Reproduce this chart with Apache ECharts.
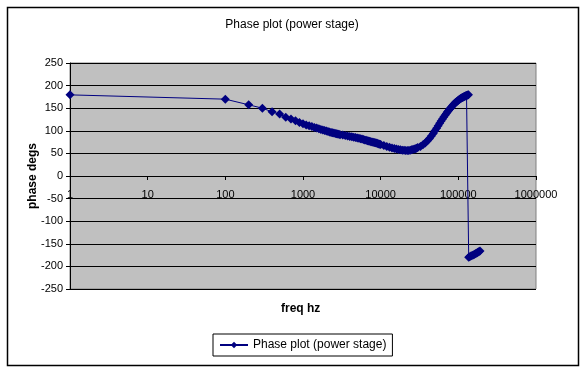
<!DOCTYPE html>
<html>
<head>
<meta charset="utf-8">
<script src="https://cdn.jsdelivr.net/npm/echarts@6/dist/echarts.min.js"></script>
<style>html,body{margin:0;padding:0;background:#fff;}#c{width:584px;height:368px;}</style>
</head>
<body>
<div id="c"></div>
<script>
var chartTitle = 'Phase plot (power stage)';
var seriesName = 'Phase plot (power stage)';
var xName = 'freq hz';
var yName = 'phase degs';
var yTicks = [-250, -200, -150, -100, -50, 0, 50, 100, 150, 200, 250];
var xTicks = [1, 10, 100, 1000, 10000, 100000, 1000000];

var freqs = [1, 100, 200, 300, 400, 500, 600, 700, 800, 900,
  1000, 1100, 1200, 1300, 1400, 1500, 1600, 1700, 1800, 1900,
  2000, 2100, 2200, 2300, 2400, 2500, 2600, 2700, 2800, 2900, 3000,
  3250, 3500, 3750, 4000, 4250, 4500, 4750, 5000, 5250, 5500, 5750,
  6000, 6250, 6500, 6750, 7000, 7250, 7500, 7750, 8000, 8250, 8500,
  8750, 9000, 9250, 9500, 9750, 10000,
  11000, 12000, 13000, 14000, 15000, 16000, 17000, 18000, 19000, 20000,
  21000, 22000, 23000, 24000, 25000, 26000, 27000, 28000, 29000, 30000,
  32500, 35000, 37500, 40000, 42500, 45000, 47500, 50000,
  52500, 55000, 57500, 60000, 62500, 65000, 67500, 70000, 72500, 75000,
  77500, 80000, 82500, 85000, 87500, 90000, 92500, 95000, 97500, 100000,
  102500, 105000, 107500, 110000, 112500, 115000, 117500, 120000,
  122500, 125000, 127500, 130000, 132500, 135000,
  136000, 140000, 145000, 150000, 155000, 160000, 165000, 170000, 175000,
  180000, 185000, 190000];

var phases = [179.5, 170, 157.5, 150, 142, 137, 130, 126, 122, 118.5,
  115.5, 113, 111, 109.5, 107.5, 106, 104.5, 103, 101.5, 100.5,
  99.5, 98.5, 97.5, 96.5, 95.5, 95, 94.2, 93.5, 92.8, 92.2, 91.5,
  90.5, 89.5, 88.5, 87.5, 86.8, 86, 85.2, 84.2, 83.5, 82.5, 81.8,
  81, 79.8, 79, 78.2, 77.5, 76.8, 76, 75.3, 74.8, 74.2, 73.5,
  73, 72.2, 71.5, 71, 70.3, 69.8,
  67.5, 65.5, 63.5, 62, 60.8, 59.5, 58.5, 57.8, 57.2, 56.7,
  56.3, 56.2, 56.5, 57, 57.8, 58.8, 59.6, 60.4, 61.5, 62.8,
  65.5, 69, 73, 78, 83, 88.5, 94.2, 100,
  105.5, 111, 116.5, 121.5, 126, 130.5, 134.5, 138.5, 142, 145,
  148, 151, 154, 156.5, 159, 161, 163, 164.5, 166, 167.5,
  169, 170.2, 171.4, 172.5, 173.5, 174.3, 175.2, 176,
  176.8, 177.5, 178.2, 178.8, 179.3, 179.8,
  -179.6, -178.5, -177.2, -176, -174.8, -173.5, -172.2, -171, -169.7,
  -168.4, -167.2, -166];

var data = freqs.map(function (f, i) { return [f, phases[i]]; });
var font = '"Liberation Sans", Arial, sans-serif';

var chart = echarts.init(document.getElementById('c'));
chart.setOption({
  animation: false,
  backgroundColor: '#ffffff',
  title: {
    text: chartTitle,
    left: 'center',
    top: 14,
    textStyle: { fontFamily: font, fontSize: 12, fontWeight: 'normal', color: '#000' }
  },
  grid: {
    left: 70, top: 63, right: 48, bottom: 79,
    show: true, backgroundColor: '#C0C0C0', borderColor: '#808080', borderWidth: 1
  },
  legend: {
    left: 213, top: 334,
    padding: [5, 6, 5, 6],
    borderColor: '#000', borderWidth: 1, backgroundColor: '#fff',
    itemWidth: 28, itemHeight: 8,
    textStyle: { fontFamily: font, fontSize: 12, color: '#000' },
    data: [seriesName]
  },
  xAxis: {
    type: 'log',
    logBase: 10,
    min: xTicks[0], max: xTicks[xTicks.length - 1],
    offset: -113,
    axisLine: { onZero: false, lineStyle: { color: '#000', width: 1 } },
    axisTick: { show: true, inside: false, length: 4, lineStyle: { color: '#000' } },
    minorTick: { show: false },
    splitLine: { show: false },
    axisLabel: {
      fontFamily: font, fontSize: 11, color: '#000', margin: 13,
      showMinLabel: true, showMaxLabel: true,
      formatter: function (v) { return String(v); }
    }
  },
  yAxis: {
    type: 'value',
    min: yTicks[0], max: yTicks[yTicks.length - 1], interval: 50,
    name: yName,
    nameLocation: 'middle',
    nameGap: 31,
    nameMoveOverlap: false,
    nameTextStyle: { fontFamily: font, fontSize: 12, fontWeight: 'bold', color: '#000' },
    axisLine: { show: true, lineStyle: { color: '#000', width: 1 } },
    axisTick: { show: true, length: 4, lineStyle: { color: '#000' } },
    splitLine: { show: true, lineStyle: { color: '#000', width: 1 } },
    axisLabel: { fontFamily: font, fontSize: 11, color: '#000', margin: 7 }
  },
  graphic: [
    {
      type: 'rect', left: 5, top: 5, z: -1, silent: true,
      shape: { width: 571, height: 358 },
      style: { fill: 'none', stroke: '#000', lineWidth: 1.5 }
    },
    {
      type: 'text', left: 303 - 22, top: 303,
      style: { text: xName, fontFamily: font, fontSize: 12, fontWeight: 'bold', fill: '#000' }
    }
  ],
  series: [{
    name: seriesName,
    type: 'line',
    data: data,
    symbol: 'diamond',
    symbolSize: 9,
    showAllSymbol: true,
    itemStyle: { color: '#000080' },
    lineStyle: { color: '#000080', width: 1 }
  }]
});
</script>
</body>
</html>
